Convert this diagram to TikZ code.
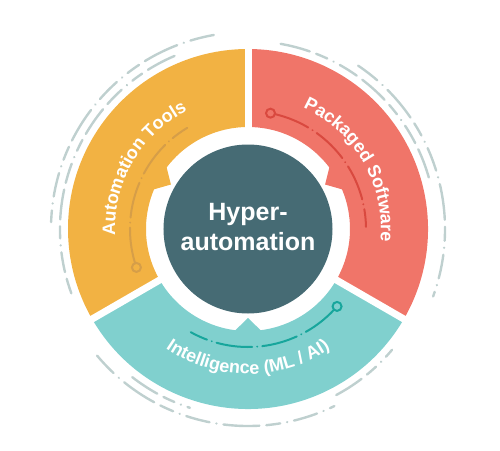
\documentclass[tikz,border=0pt]{standalone}
\usepackage{fontspec}
\setmainfont{Liberation Sans}
\usetikzlibrary{decorations.text}
\definecolor{hubcol}{HTML}{466B74}
\definecolor{orng}{HTML}{F2B243}
\definecolor{redc}{HTML}{F07569}
\definecolor{tealc}{HTML}{80D0CE}
\definecolor{orline}{HTML}{D69E48}
\definecolor{redline}{HTML}{D9493F}
\definecolor{tealline}{HTML}{17A69C}
\definecolor{ringdash}{HTML}{BFD0CF}
\newcommand\arcfont{\bfseries\fontsize{18}{20}\selectfont}
\def\ringseg#1#2#3#4{%
  \fill[#4] (#1:180pt) arc[start angle=#1, end angle=#2, radius=180pt]
     -- (#2:102pt) arc[start angle=#2, end angle=#1, radius=102pt] -- cycle;
  \fill[#4] ({#3-8.2}:104.5pt) -- (#3:89pt) -- ({#3+8.2}:104.5pt) -- cycle;}
\tikzset{
  gapline/.style={white, line width=7pt},
  outdash/.style={ringdash, line width=2.4pt, line cap=round,
     dash pattern=on 24pt off 7pt on 0.1pt off 7pt on 36pt off 7pt on 14pt off 7pt on 0.1pt off 7pt},
  outdashb/.style={ringdash, line width=2.4pt, line cap=round,
     dash pattern=on 30pt off 7pt on 12pt off 7pt on 0.1pt off 7pt on 20pt off 7pt},
  innerdeco/.style={line width=2pt, line cap=round,
     dash pattern=on 36pt off 5pt on 0.1pt off 5pt},
  ringtext/.style={decorate, decoration={text along path, text align=center, text color=white}},
  hubtext/.style={anchor=base, text=white, font=\bfseries\fontsize{25}{30}\selectfont, inner sep=0pt}
}
\begin{document}
\begin{tikzpicture}
\useasboundingbox (-248pt,-221pt) rectangle (252pt,229pt);
% segments
\ringseg{90}{210}{150}{orng}
\ringseg{-30}{90}{30}{redc}
\ringseg{210}{330}{270}{tealc}
\draw[gapline] (90:95pt) -- (90:186pt);
\draw[gapline] (-30:95pt) -- (-30:186pt);
\draw[gapline] (210:95pt) -- (210:186pt);
% hub
\node[circle, fill=hubcol, minimum size=169pt, inner sep=0pt] (hub) at (0pt,0pt) {};
\node[hubtext] (hubA) at (0pt,9pt) {Hyper-};
\node[hubtext] (hubB) at (0pt,-21pt) {automation};
% inner decorative lines
\draw[innerdeco, orline] (196.8:118pt) arc[start angle=196.8, end angle=121, radius=118pt];
\draw[orline, line width=2pt, fill=orng] (199:118pt) circle[radius=4.5pt];
\draw[innerdeco, redline] (76.8:118pt) arc[start angle=76.8, end angle=1, radius=118pt];
\draw[redline, line width=2pt, fill=redc] (79:118pt) circle[radius=4.5pt];
\draw[innerdeco, tealline] (-43.2:118pt) arc[start angle=-43.2, end angle=-119, radius=118pt];
\draw[tealline, line width=2pt, fill=tealc] (-41:118pt) circle[radius=4.5pt];
% ring texts
\path[ringtext, decoration={text={|\arcfont|Automation Tools}}]
  (200:133pt) arc[start angle=200, end angle=100, radius=133pt];
\path[ringtext, decoration={text={|\arcfont|Packaged Software}}]
  (80:133pt) arc[start angle=80, end angle=-20, radius=133pt];
\path[ringtext, decoration={text={|\arcfont|Intelligence (ML / AI)}}]
  (220:145pt) arc[start angle=220, end angle=320, radius=145pt];
% outer decorative arcs
\draw[outdash] (100:197pt) arc[start angle=100, end angle=178, radius=197pt];
\draw[outdashb] (113:188pt) arc[start angle=113, end angle=200, radius=188pt];
\draw[outdashb] (80:188pt) arc[start angle=80, end angle=14, radius=188pt];
\draw[outdash] (56:197pt) arc[start angle=56, end angle=-20, radius=197pt];
\draw[outdash] (220:197pt) arc[start angle=220, end angle=296, radius=197pt];
\draw[outdashb] (232:188pt) arc[start angle=232, end angle=252, radius=188pt];
\draw[outdashb] (298:188pt) arc[start angle=298, end angle=320, radius=188pt];
\end{tikzpicture}
\end{document}
